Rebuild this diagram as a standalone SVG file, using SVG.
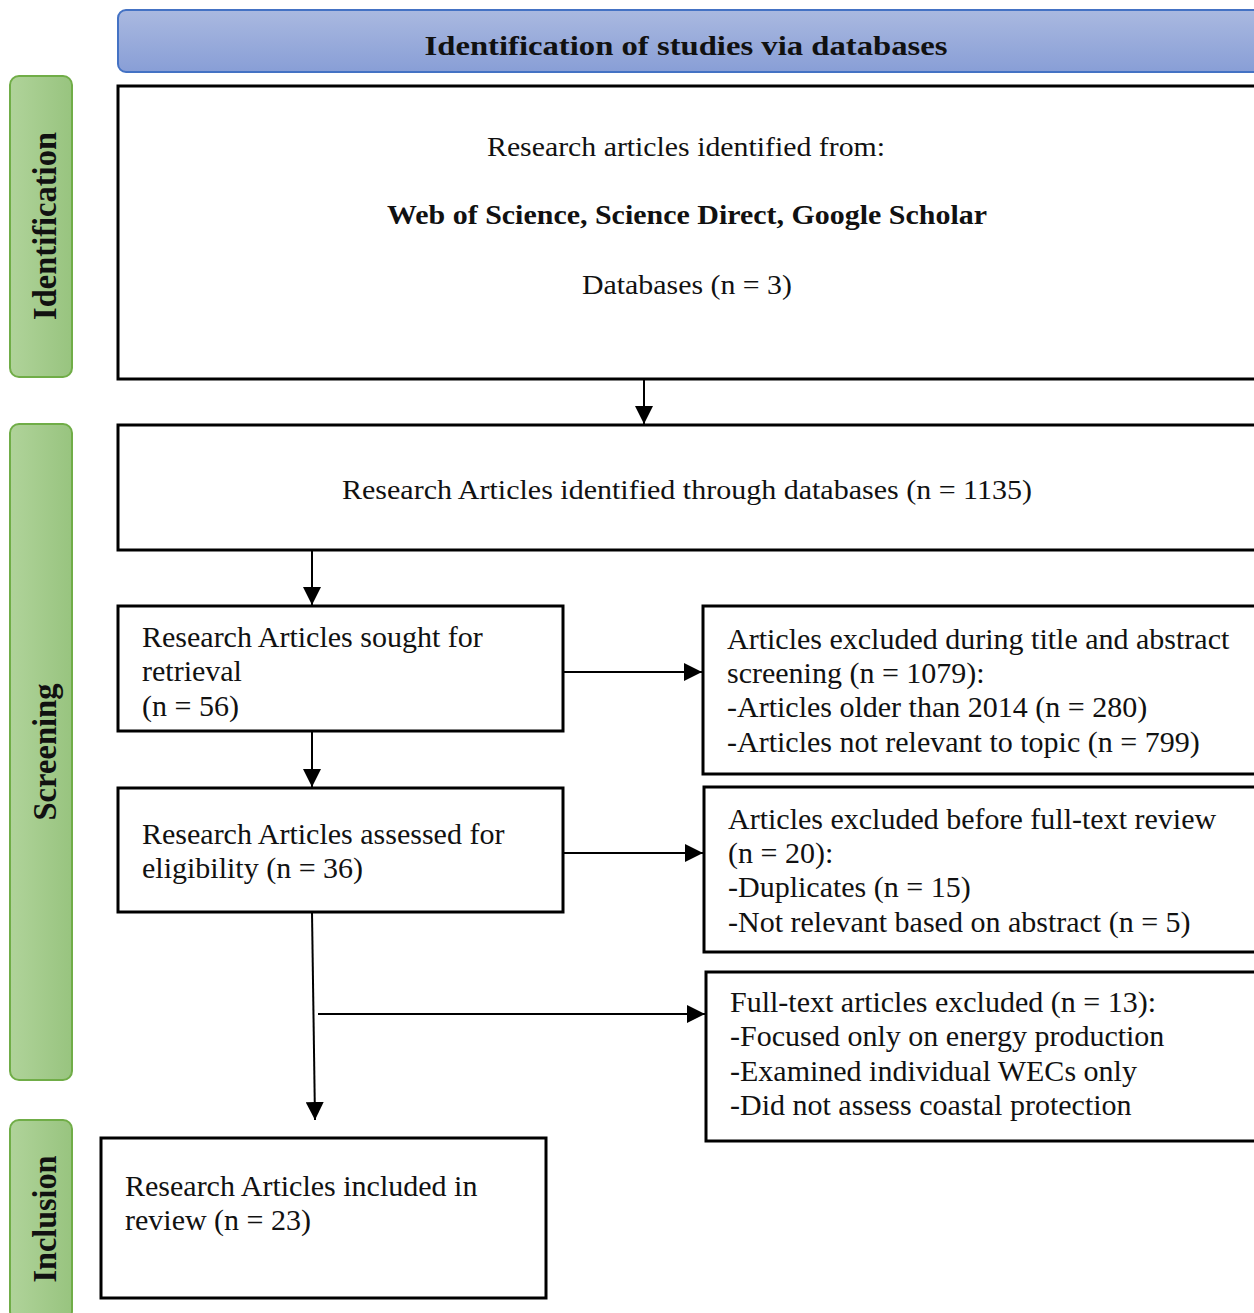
<svg xmlns="http://www.w3.org/2000/svg" width="1254" height="1313" viewBox="0 0 1254 1313">
<defs>
<linearGradient id="blueGrad" x1="0" y1="0" x2="0" y2="1">
<stop offset="0" stop-color="#aab9e0"/>
<stop offset="1" stop-color="#889ed6"/>
</linearGradient>
<linearGradient id="greenGrad" x1="0" y1="0" x2="1" y2="0">
<stop offset="0" stop-color="#b0d39a"/>
<stop offset="1" stop-color="#98c47f"/>
</linearGradient>
<marker id="arrowL" markerWidth="18" markerHeight="18" refX="18" refY="9" orient="auto" markerUnits="userSpaceOnUse" viewBox="0 0 18 18">
<path d="M0,0 L18,9 L0,18 z" fill="#000"/>
</marker>
</defs>
<style>
.box{fill:#fff;stroke:#000;stroke-width:3}
.t{font-family:"Liberation Serif","Times New Roman",serif;font-size:30px;fill:#111}
.h{font-size:28px}
.b{font-weight:bold}
.side{fill:url(#greenGrad);stroke:#70ad47;stroke-width:2}
.sl{font-family:"Liberation Serif","Times New Roman",serif;font-size:33px;font-weight:bold;fill:#111}
.c{stroke:#000;stroke-width:2;fill:none;marker-end:url(#arrowL)}
</style>
<rect width="1254" height="1313" fill="#fff"/>

<g id="header">
<rect x="118" y="10" width="1145" height="62" rx="8" fill="url(#blueGrad)" stroke="#4472c4" stroke-width="2"/>
<text class="t h b" x="686" y="55" text-anchor="middle" textLength="523" lengthAdjust="spacingAndGlyphs">Identification of studies via databases</text>
</g>

<g id="stage-identification">
<rect class="side" x="10" y="76" width="62" height="301" rx="9"/>
<text class="sl" transform="translate(56,226) rotate(-90)" text-anchor="middle" textLength="188" lengthAdjust="spacingAndGlyphs">Identification</text>
</g>
<g id="stage-screening">
<rect class="side" x="10" y="424" width="62" height="656" rx="9"/>
<text class="sl" transform="translate(56,752) rotate(-90)" text-anchor="middle" textLength="137" lengthAdjust="spacingAndGlyphs">Screening</text>
</g>
<g id="stage-inclusion">
<rect class="side" x="10" y="1120" width="62" height="200" rx="9"/>
<text class="sl" transform="translate(56,1219) rotate(-90)" text-anchor="middle" textLength="127" lengthAdjust="spacingAndGlyphs">Inclusion</text>
</g>

<g id="box-sources">
<rect class="box" x="118" y="86" width="1145" height="293"/>
<text class="t h" x="686" y="156" text-anchor="middle" textLength="398" lengthAdjust="spacingAndGlyphs">Research articles identified from:</text>
<text class="t h b" x="687" y="224" text-anchor="middle" textLength="600" lengthAdjust="spacingAndGlyphs">Web of Science, Science Direct, Google Scholar</text>
<text class="t h" x="687" y="294" text-anchor="middle" textLength="210" lengthAdjust="spacingAndGlyphs">Databases (n = 3)</text>
</g>

<g id="box-identified">
<rect class="box" x="118" y="425" width="1145" height="125"/>
<text class="t h" x="687" y="499" text-anchor="middle" textLength="690" lengthAdjust="spacingAndGlyphs">Research Articles identified through databases (n = 1135)</text>
</g>

<g id="box-sought">
<rect class="box" x="118" y="606" width="445" height="125"/>
<text class="t" x="142" y="647">Research Articles sought for</text>
<text class="t" x="142" y="681">retrieval</text>
<text class="t" x="142" y="716">(n = 56)</text>
</g>

<g id="box-excluded-title">
<rect class="box" x="703" y="606" width="560" height="168"/>
<text class="t" x="727" y="649">Articles excluded during title and abstract</text>
<text class="t" x="727" y="683">screening (n = 1079):</text>
<text class="t" x="727" y="717">-Articles older than 2014 (n = 280)</text>
<text class="t" x="727" y="752">-Articles not relevant to topic (n = 799)</text>
</g>

<g id="box-assessed">
<rect class="box" x="118" y="788" width="445" height="124"/>
<text class="t" x="142" y="844">Research Articles assessed for</text>
<text class="t" x="142" y="878">eligibility (n = 36)</text>
</g>

<g id="box-excluded-full">
<rect class="box" x="704" y="787" width="559" height="165"/>
<text class="t" x="728" y="829">Articles excluded before full-text review</text>
<text class="t" x="728" y="863">(n = 20):</text>
<text class="t" x="728" y="897">-Duplicates (n = 15)</text>
<text class="t" x="728" y="932">-Not relevant based on abstract (n = 5)</text>
</g>

<g id="box-fulltext-excluded">
<rect class="box" x="706" y="972" width="557" height="169"/>
<text class="t" x="730" y="1012">Full-text articles excluded (n = 13):</text>
<text class="t" x="730" y="1046">-Focused only on energy production</text>
<text class="t" x="730" y="1081">-Examined individual WECs only</text>
<text class="t" x="730" y="1115">-Did not assess coastal protection</text>
</g>

<g id="box-included">
<rect class="box" x="101" y="1138" width="445" height="160"/>
<text class="t" x="125" y="1196">Research Articles included in</text>
<text class="t" x="125" y="1230">review (n = 23)</text>
</g>

<g id="connectors">
<line class="c" x1="644" y1="379" x2="644" y2="424"/>
<line class="c" x1="312" y1="550" x2="312" y2="605"/>
<line class="c" x1="563" y1="672" x2="702" y2="672"/>
<line class="c" x1="312" y1="731" x2="312" y2="787"/>
<line class="c" x1="563" y1="853" x2="703" y2="853"/>
<line class="c" x1="312" y1="912" x2="315" y2="1120"/>
<line class="c" x1="318" y1="1014" x2="705" y2="1014"/>
</g>
</svg>
